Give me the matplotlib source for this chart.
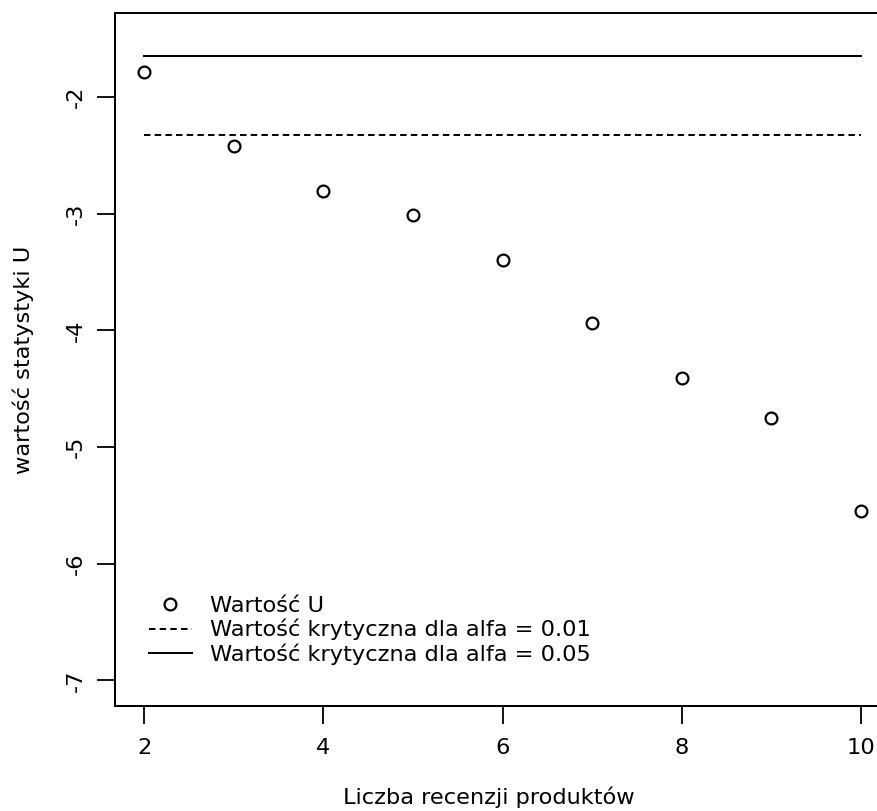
import matplotlib
matplotlib.use('Agg')
import matplotlib.pyplot as plt

plt.rcParams['font.family'] = 'DejaVu Sans'
plt.rcParams['axes.unicode_minus'] = False

# liczba recenzji i wartosci statystyki U
n_reviews = [2, 3, 4, 5, 6, 7, 8, 9, 10]
u_values = [-1.79, -2.42, -2.805, -3.01, -3.40, -3.94, -4.41, -4.75, -5.55]
crit_001 = -2.326
crit_005 = -1.645

W, H, DPI = 878, 811, 100
fig = plt.figure(figsize=(W / DPI, H / DPI), dpi=DPI)
# prawy brzeg ramki wychodzi poza obrazek (jak w oryginale)
ax_w, ax_h = 889.7 - 115.5, 706 - 13
ax = fig.add_axes([115.5 / W, (H - 706) / H, ax_w / W, ax_h / H])

fs = 16.2
ax.plot(n_reviews, u_values, 'o', mfc='white', mec='black', ms=8.5, mew=1.6,
        label='Wartość U', zorder=3)
ax.plot([n_reviews[0], n_reviews[-1]], [crit_001, crit_001], color='black',
        lw=1.45, dashes=(3.2, 2.1), label='Wartość krytyczna dla alfa = 0.01')
ax.plot([n_reviews[0], n_reviews[-1]], [crit_005, crit_005], color='black',
        lw=1.45, label='Wartość krytyczna dla alfa = 0.05')

ax.set_xlim(1.68, 10.32)
ax.set_ylim(-7.22, -1.28)
ax.set_xticks([2, 4, 6, 8, 10])
ax.set_yticks([-7, -6, -5, -4, -3, -2])
ax.tick_params(axis='both', length=13, width=1.3, labelsize=fs, direction='out')
ax.tick_params(axis='x', pad=10)
ax.tick_params(axis='y', pad=8)
for lab in ax.get_yticklabels():
    lab.set_rotation(90)
    lab.set_va('center')
for sp in ax.spines.values():
    sp.set_linewidth(1.45)

ax.set_xlabel('Liczba recenzji produktów', fontsize=fs)
ax.xaxis.set_label_coords((489 - 115.5) / ax_w, -91 / ax_h)
ax.xaxis.label.set_va('center')
ax.set_ylabel('wartość statystyki U', fontsize=fs)
ax.yaxis.set_label_coords(-92.5 / ax_w, 0.5)
ax.yaxis.label.set_va('center')

ax.legend(loc='upper left', bbox_to_anchor=((149 - 115.5) / ax_w, (706 - 596) / ax_h),
          frameon=False, fontsize=fs, labelspacing=0.13, handlelength=1.9,
          handletextpad=0.8, borderpad=0, borderaxespad=0)

fig.savefig('out.png', dpi=DPI)
